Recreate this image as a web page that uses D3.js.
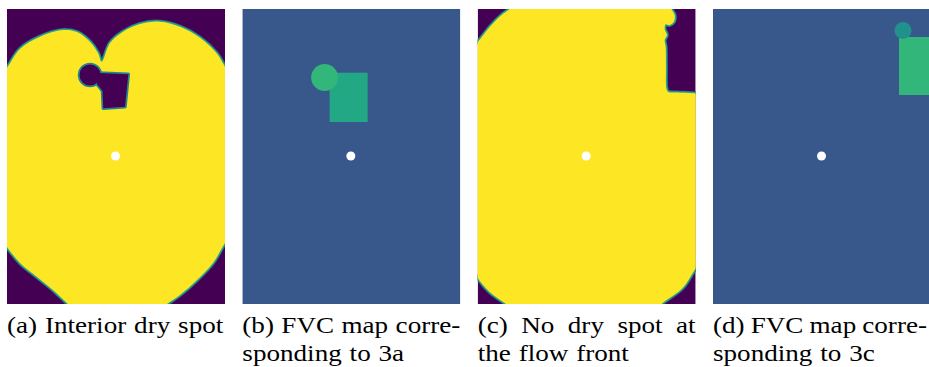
<!DOCTYPE html>
<html>
<head>
<meta charset="utf-8">
<script src="https://cdn.jsdelivr.net/npm/d3@7"></script>
<style>
  html, body { margin: 0; padding: 0; background: #fff; }
  svg { display: block; }
</style>
</head>
<body>
<div id="chart"></div>
<script>
// ---- data -------------------------------------------------------------
// sensor grid of each map (cells along x, y)
const gridSize = [218, 295];
const panelIds = ['a', 'b', 'c', 'd'];
const inlet = [108.5, 147];

// flow front outline (saturated region) for case 3a, grid cells
const frontA = [
  [-10, 150], [-8, 70], [0, 59], [13, 40], [33, 27.7], [56, 21], [70, 23], [83, 32.7],
  [91, 44], [94.7, 52.7], [103, 34], [116, 22.7], [133, 15], [153, 12.7], [173, 17.7],
  [193, 28.7], [209.7, 44.3], [218, 57.7], [227, 72], [230, 150], [227, 222], [218, 234],
  [206, 254], [190, 271], [173, 286], [160, 295], [150, 303], [70, 303], [61, 295],
  [46, 281], [30, 268], [13, 254], [0, 238], [-8, 225]
];
// interior dry spot of case 3a: circle [cx, cy, r] and patch polygon
const dryCircleA = [83, 66, 10.5];
const dryPatchA = [[91, 64], [121.3, 65.3], [118, 97.7], [96.3, 99.3], [95.5, 82], [90, 75]];

// flow front outline for case 3c
const frontC = [
  [-10, 150], [-8, 40], [0, 33], [12, 18], [24, 6], [32, 0], [40, -8], [190, -8],
  [193.7, 0], [197, 6], [196.3, 12.7], [192, 16], [188, 15.3], [187, 20], [189.3, 26],
  [187, 31], [188, 37.7], [188.3, 58], [188.7, 79.3], [190.3, 82.7], [200, 83.6],
  [215.3, 84.3], [225, 86], [228, 170], [225, 250], [217, 261], [205, 279], [185, 294],
  [175, 303], [40, 303], [27, 294], [12, 283], [0, 269], [-8, 255]
];

// FVC values (normalised to the colour map)
const fvcDry = 0;
const fvcSaturated = 1;
const fvcEdge = 0.45;
const fvcBackground = 0.27;
// FVC patches: circle [cx, cy, r, value], rect [x0, y0, x1, y1, value]
const patchCircleB = [82.3, 68.5, 13.5, 0.66];
const patchRectB = [87.3, 63.7, 125.3, 113, 0.6];
const patchCircleD = [190, 21.5, 8.5, 0.5];
const patchRectD = [186, 28, 224, 86, 0.66];

const captions = [
  ['(a) Interior dry spot'],
  ['(b) FVC map corre-', 'sponding to 3a'],
  ['(c) No dry spot at', 'the flow front'],
  ['(d) FVC map corre-', 'sponding to 3c']
];

// ---- layout -------------------------------------------------------------
const width = 929, height = 367;
const mapTop = 9, mapHeight = 295;
const baselines = [333, 361];
const fontSize = 24, stretch = 1.13;

const svg = d3.select('#chart').append('svg')
  .attr('width', width)
  .attr('height', height);

const band = d3.scaleBand()
  .domain(panelIds)
  .range([7, 931])
  .paddingInner(0.0737)
  .paddingOuter(0);

const x = d3.scaleLinear().domain([0, gridSize[0]]).range([0, band.bandwidth()]);
const y = d3.scaleLinear().domain([0, gridSize[1]]).range([0, mapHeight]);
const color = d3.scaleSequential(d3.interpolateViridis).domain([0, 1]);

const outline = d3.line()
  .x(d => x(d[0]))
  .y(d => y(d[1]))
  .curve(d3.curveCatmullRomClosed.alpha(0.5));
const polygon = d3.line()
  .x(d => x(d[0]))
  .y(d => y(d[1]))
  .curve(d3.curveLinearClosed);

const defs = svg.append('defs');

const panels = {};
panelIds.forEach(id => {
  defs.append('clipPath').attr('id', 'clip-' + id)
    .append('rect')
    .attr('width', band.bandwidth())
    .attr('height', mapHeight);
  panels[id] = svg.append('g')
    .attr('transform', `translate(${band(id)},${mapTop})`)
    .append('g')
    .attr('clip-path', `url(#clip-${id})`);
});

// ---- flow front maps (a, c) ----------------------------------------------
function drawFront(g, front) {
  g.append('rect')
    .attr('width', band.bandwidth())
    .attr('height', mapHeight)
    .attr('fill', color(fvcDry));
  // soft edge first, then the fill on top
  g.append('path')
    .attr('d', outline(front))
    .attr('fill', 'none')
    .attr('stroke', color(0.3))
    .attr('stroke-width', 4);
  g.append('path')
    .attr('d', outline(front))
    .attr('fill', 'none')
    .attr('stroke', color(fvcEdge + 0.15))
    .attr('stroke-width', 2.5);
  g.append('path')
    .attr('d', outline(front))
    .attr('fill', color(fvcSaturated));
}

drawFront(panels.a, frontA);
drawFront(panels.c, frontC);

// dry spot inside case 3a: edges first, then fills
const holeA = panels.a.append('g');
[['stroke', color(fvcEdge)], ['fill', color(fvcDry)]].forEach(([mode, c]) => {
  const circ = holeA.append('circle')
    .attr('cx', x(dryCircleA[0]))
    .attr('cy', y(dryCircleA[1]))
    .attr('r', x(dryCircleA[2]));
  const poly = holeA.append('path')
    .attr('d', polygon(dryPatchA))
    .attr('stroke-linejoin', 'round');
  [circ, poly].forEach(s => {
    if (mode === 'stroke') s.attr('fill', 'none').attr('stroke', c).attr('stroke-width', 3.5);
    else s.attr('fill', c);
  });
});

// ---- FVC maps (b, d) -------------------------------------------------------
function drawFvc(g, rect, circle) {
  g.append('rect')
    .attr('width', band.bandwidth())
    .attr('height', mapHeight)
    .attr('fill', color(fvcBackground));
  g.append('rect')
    .attr('x', x(rect[0]))
    .attr('y', y(rect[1]))
    .attr('width', x(rect[2]) - x(rect[0]))
    .attr('height', y(rect[3]) - y(rect[1]))
    .attr('fill', color(rect[4]));
  g.append('circle')
    .attr('cx', x(circle[0]))
    .attr('cy', y(circle[1]))
    .attr('r', x(circle[2]))
    .attr('fill', color(circle[3]));
}

drawFvc(panels.b, patchRectB, patchCircleB);
drawFvc(panels.d, patchRectD, patchCircleD);

// inlet marker on every map
panelIds.forEach(id => {
  panels[id].append('circle')
    .attr('cx', x(inlet[0]))
    .attr('cy', y(inlet[1]))
    .attr('r', 4.5)
    .attr('fill', '#fff');
});

// ---- captions ---------------------------------------------------------------
captions.forEach((lines, i) => {
  const x0 = band(panelIds[i]);
  const lineWidth = Math.min(band.bandwidth(), width - 2 - x0);
  const g = svg.append('g').attr('transform', `translate(${x0},0)`);
  lines.forEach((line, j) => {
    const justify = j < lines.length - 1;
    const lg = g.append('g')
      .attr('transform', `translate(0,${baselines[j]}) scale(${stretch},1)`)
      .style('font-family', '"Liberation Serif", "Times New Roman", serif')
      .style('font-size', fontSize + 'px')
      .attr('fill', '#000');
    const words = line.split(' ');
    const texts = words.map(w => lg.append('text').text(w));
    const widths = texts.map(t => t.node().getComputedTextLength());
    const total = d3.sum(widths);
    const gap = justify
      ? (lineWidth / stretch - total) / (words.length - 1)
      : fontSize * 0.29;
    let cx = 0;
    texts.forEach((t, k) => {
      t.attr('x', cx);
      cx += widths[k] + gap;
    });
  });
});
</script>
</body>
</html>
